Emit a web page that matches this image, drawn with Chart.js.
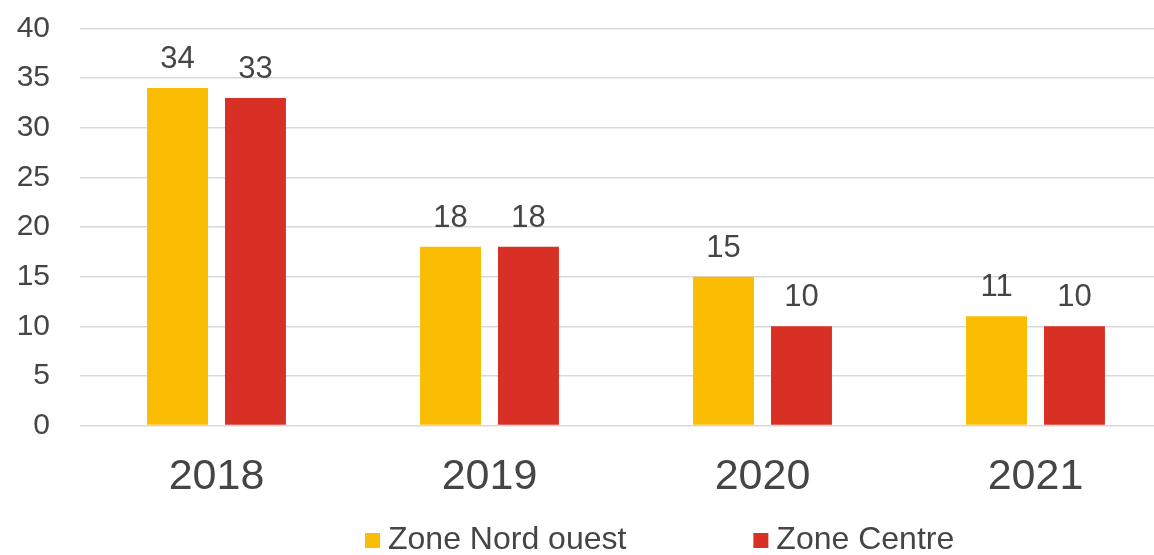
<!DOCTYPE html>
<html>
<head>
<meta charset="utf-8">
<script src="https://cdn.jsdelivr.net/npm/chart.js@4"></script>
<style>
  html, body { margin: 0; padding: 0; background: #fff; overflow: hidden; }
  #wrap { position: absolute; left: 0; top: 0; width: 1172px; height: 555px; }
</style>
</head>
<body>
<div id="wrap"><canvas id="c"></canvas></div>
<script>
const categories = ['2018', '2019', '2020', '2021'];
const seriesNames = ['Zone Nord ouest', 'Zone Centre'];
const nordOuest = [34, 18, 15, 11];
const centre = [33, 18, 10, 10];
const yTicks = [0, 5, 10, 15, 20, 25, 30, 35, 40];

const COLORS = ['#FBBC04', '#D93025'];
const TEXT = '#454545';
const FONT = '"Liberation Sans", Arial, Helvetica, sans-serif';

const valueLabels = {
  id: 'valueLabels',
  afterDatasetsDraw(chart) {
    const ctx = chart.ctx;
    ctx.save();
    ctx.fillStyle = TEXT;
    ctx.font = '31px ' + FONT;
    ctx.textAlign = 'center';
    ctx.textBaseline = 'alphabetic';
    chart.data.datasets.forEach((ds, i) => {
      const meta = chart.getDatasetMeta(i);
      meta.data.forEach((el, j) => {
        ctx.fillText(String(ds.data[j]), el.x, el.y - 20);
      });
    });
    ctx.restore();
  }
};

const customLegend = {
  id: 'customLegend',
  afterDraw(chart) {
    const ctx = chart.ctx;
    ctx.save();
    ctx.font = '32px ' + FONT;
    ctx.textBaseline = 'alphabetic';
    ctx.textAlign = 'left';
    const box = 15, gapText = 8, gapItem = 127;
    let x = 365;
    const boxTop = 533, baseline = 549;
    chart.data.datasets.forEach((ds, i) => {
      ctx.fillStyle = ds.backgroundColor;
      ctx.fillRect(x, boxTop, box, box);
      ctx.fillStyle = TEXT;
      const tx = x + box + gapText;
      ctx.fillText(ds.label, tx, baseline);
      x = tx + ctx.measureText(ds.label).width + gapItem;
    });
    ctx.restore();
  }
};

new Chart(document.getElementById('c'), {
  type: 'bar',
  data: {
    labels: categories,
    datasets: [
      { label: seriesNames[0], data: nordOuest, backgroundColor: COLORS[0] },
      { label: seriesNames[1], data: centre, backgroundColor: COLORS[1] }
    ]
  },
  options: {
    responsive: true,
    maintainAspectRatio: false,
    animation: false,
    devicePixelRatio: 1,
    layout: { padding: { top: 28.5, left: 0, right: 0, bottom: 0 } },
    datasets: { bar: { categoryPercentage: 0.571, barPercentage: 0.782 } },
    plugins: {
      legend: { display: false },
      tooltip: { enabled: false }
    },
    scales: {
      x: {
        grid: { display: false, drawTicks: false },
        border: { display: false },
        ticks: { color: TEXT, font: { family: FONT, size: 43 }, padding: 26 },
        afterFit(scale) { scale.height = 129.5; }
      },
      y: {
        min: 0, max: 40,
        afterBuildTicks(scale) { scale.ticks = yTicks.map(v => ({ value: v })); },
        grid: { color: '#d9d9d9', lineWidth: 1.5, drawTicks: false },
        border: { display: false },
        ticks: { color: TEXT, font: { family: FONT, size: 30 }, padding: 30 },
        afterFit(scale) {
          scale.width = 80;
          scale.paddingTop = 0;
          scale.paddingBottom = 0;
        }
      }
    }
  },
  plugins: [valueLabels, customLegend]
});
</script>
</body>
</html>
